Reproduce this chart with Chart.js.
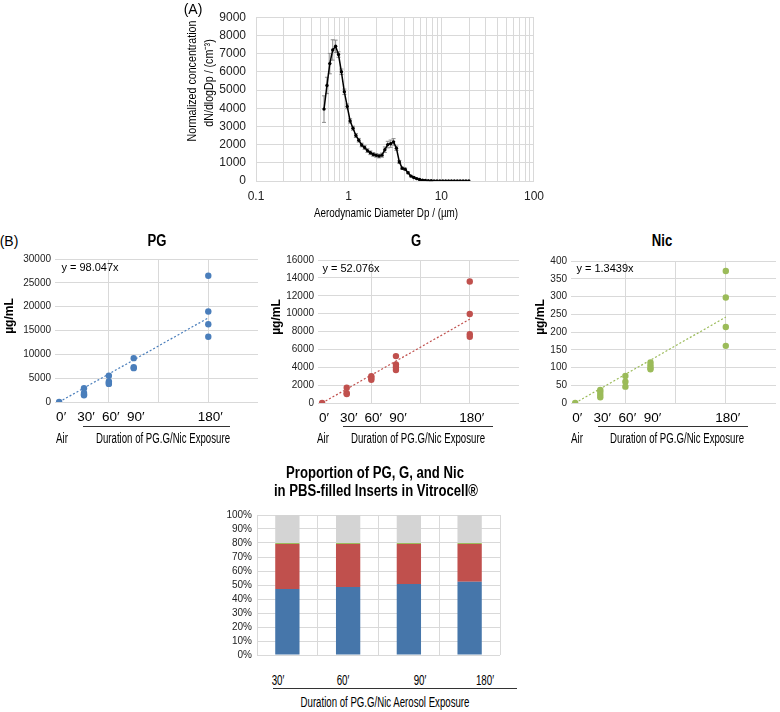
<!DOCTYPE html>
<html><head><meta charset="utf-8">
<script src="https://cdn.jsdelivr.net/npm/chart.js@4/dist/chart.umd.min.js"></script>
<style>
body{margin:0;background:#fff;}
#wrap{position:relative;width:780px;height:712px;overflow:hidden;background:#fff;font-family:'Liberation Sans',Arial,sans-serif;color:#000;}
canvas{position:absolute;}
.t{position:absolute;white-space:nowrap;line-height:1;}
.hl{position:absolute;height:0;border-top:1px solid #333;}
</style></head><body><div id="wrap"></div>
<script>
// ---------- DATA ----------
// Panel A: aerodynamic diameter channels (µm), concentration, error
const diam = [0.542,0.583,0.626,0.673,0.723,0.777,0.835,0.898,0.965,1.037,1.114,1.197,1.286,1.382,1.486,1.596,1.715,1.843,1.981,2.129,2.288,2.458,2.642,2.839,3.051,3.278,3.523,3.786,4.068,4.371,4.698,5.048,5.425,5.829,6.264,6.732,7.234,7.774,8.354,8.977,9.647,10.37,11.14,11.97,12.86,13.82,14.86,15.96,17.15,18.43,19.81];
const conc = [3950,5250,6450,7200,7400,6950,6000,4900,4100,3300,2900,2500,2240,1980,1840,1670,1550,1460,1410,1370,1420,1720,2000,2050,2150,1800,1050,700,650,450,270,190,130,80,50,30,20,12,8,6,5,4,3,2,2,1,1,1,1,1,1];
const concErr = [730,450,560,560,340,150,150,150,130,120,110,110,100,100,100,100,100,100,100,100,110,150,180,200,180,120,80,60,60,50,40,30,20,10,8,5,3,2,0,0,0,0,0,0,0,0,0,0,0,0,0];
const logTickLabels = ['0.1','1','10','100'];

// Panel B: exposure durations (min) and measured concentrations (µg/mL)
const pgX  = [0,30,30,30,30,60,60,60,60,90,90,90,180,180,180,180];
const pgY  = [0,2900,1900,1600,1400,5500,4300,4000,3800,9200,7300,7100,26500,19000,16300,13700];
const gX   = [0,30,30,30,60,60,60,90,90,90,90,180,180,180,180];
const gY   = [0,1700,1100,1000,3000,2800,2600,5250,4300,4000,3700,13600,9950,7700,7400];
const nicX = [0,30,30,30,30,60,60,60,90,90,90,90,180,180,180,180];
const nicY = [0,37,31,23,16,76,60,46,114,106,99,95,372,297,214,161];
const slopes = [98.047, 52.076, 1.3439];
const minuteTicks = [0,30,60,90,120,180,240];
const minuteLabels = [0,30,60,90,180];
const minuteGrid = [60,120,180];

// Panel C: proportions (%)
const durations = ['30′','60′','90′','180′'];
const propPG  = [47.2,48.5,50.8,52.4];
const propG   = [32.1,30.8,28.5,26.9];
const propNic = [0.7,0.7,0.7,0.7];
const propOther = [20.0,20.0,20.0,20.0];

// ---------- helpers ----------
const wrap = document.getElementById('wrap');
function hasFont(name){
  const c=document.createElement('canvas').getContext('2d');
  const s='Duration of PG.G/Nic Exposure 0123456789';
  c.font='20px monospace'; const w0=c.measureText(s).width;
  c.font="20px '"+name+"', monospace"; return Math.abs(c.measureText(s).width-w0)>0.5;
}
const NARROW_OK = hasFont('Liberation Sans Narrow');
const CF = NARROW_OK ? "'Liberation Sans Narrow'" : "'Liberation Sans'";
const SF = "'Liberation Sans', Arial, sans-serif";
function txt(s,cx,cy,font,o){
  o=o||{};
  const d=document.createElement('div'); d.className='t'; d.textContent=s;
  d.style.left=cx+'px'; d.style.top=cy+'px'; d.style.font=font; d.style.color=o.color||'#000';
  let sx=o.sx||1; if(o.cond && !NARROW_OK) sx*=0.82;
  let tr='translate(-50%,-50%)'; if(o.rot) tr+=' rotate(-90deg)'; if(sx!==1) tr+=' scaleX('+sx+')';
  d.style.transform=tr; wrap.appendChild(d); return d;
}
function hline(x1,x2,y){const d=document.createElement('div');d.className='hl';d.style.left=x1+'px';d.style.width=(x2-x1)+'px';d.style.top=y+'px';wrap.appendChild(d);}
function mkCanvas(l,t,w,h){const c=document.createElement('canvas');c.width=w;c.height=h;c.style.left=l+'px';c.style.top=t+'px';c.style.width=w+'px';c.style.height=h+'px';wrap.appendChild(c);return c;}
const GRID='#d9d9d9';
Chart.defaults.font.family = SF;
const plain = v => String(v);

// ---------- Panel A ----------
const errPlugin={id:'errbars',beforeDatasetsDraw(chart){
  const {ctx,scales:{x,y}}=chart; ctx.save(); ctx.strokeStyle='#8c8c8c'; ctx.lineWidth=1;
  diam.forEach((d,i)=>{const e=concErr[i]; if(!e) return; const px=x.getPixelForValue(d);
    const p1=y.getPixelForValue(conc[i]+e), p2=y.getPixelForValue(Math.max(0,conc[i]-e));
    ctx.beginPath(); ctx.moveTo(px,p1); ctx.lineTo(px,p2); ctx.moveTo(px-2,p1); ctx.lineTo(px+2,p1); ctx.moveTo(px-2,p2); ctx.lineTo(px+2,p2); ctx.stroke();});
  ctx.restore();}};
(function(){
  const cv=mkCanvas(180,0,372,221);
  new Chart(cv,{type:'line',
    data:{datasets:[{data:diam.map((d,i)=>({x:d,y:conc[i]})),borderColor:'#000',borderWidth:1.5,pointRadius:1.7,pointBackgroundColor:'#000',pointBorderWidth:0,tension:0}]},
    options:{responsive:false,animation:false,layout:{padding:{top:7,right:13,left:0,bottom:0}},
      plugins:{legend:{display:false},tooltip:{enabled:false}},
      scales:{
        x:{type:'logarithmic',min:0.1,max:100,
          afterBuildTicks:s=>{const t=[];for(let e=-1;e<2;e++)for(let m=1;m<10;m++)t.push({value:m*Math.pow(10,e)});t.push({value:100});s.ticks=t;},
          ticks:{autoSkip:false,maxRotation:0,padding:8,font:{size:12},color:'#222',
            callback:v=>{const l=Math.log10(v);return Math.abs(l-Math.round(l))<1e-6?logTickLabels[Math.round(l)+1]:'';}},
          grid:{drawTicks:false,color:GRID},border:{display:false},afterFit:s=>{s.height=40;}},
        y:{min:0,max:9000,ticks:{stepSize:1000,autoSkip:false,padding:10,font:{size:12},color:'#222',callback:plain},
          grid:{drawTicks:false,color:GRID},border:{display:false},afterFit:s=>{s.width=76;}}
      }},
    plugins:[errPlugin]});
})();
txt('(A)',193,9,'14px '+SF);
txt('Normalized concentration',191,81,'13px '+CF,{rot:true,cond:true});
txt('dN/dlogDp / (cm⁻³)',208,83,'13px '+CF,{rot:true,cond:true});
txt('Aerodynamic Diameter Dp / (µm)',386,212,'13.5px '+CF,{cond:true,sx:0.89});

// ---------- Panel B ----------
// minute tick labels drawn through the x scale of each chart
const minuteLabelPlugin={id:'minuteLabels',afterDraw(chart){
  const {ctx,chartArea,scales:{x}}=chart; ctx.save();
  ctx.font='13.5px '+CF; ctx.fillStyle='#000'; ctx.textAlign='center'; ctx.textBaseline='middle';
  minuteLabels.forEach(v=>ctx.fillText(v+'′',x.getPixelForValue(v)+2,chartArea.bottom+15));
  ctx.restore();}};
function scatter(xs,ys,slope,color,ymax,ystep,g){
  const yW=40,xH=26,padT=8,padR=2;
  const left=g.L-yW, top=g.T-padT, w=g.R+padR-left, h=g.B+xH-top;
  const cv=mkCanvas(left,top,w,h);
  return new Chart(cv,{type:'scatter',
    data:{datasets:[
      {data:xs.map((x,i)=>({x:x,y:ys[i]})),backgroundColor:color,borderColor:color,pointRadius:3.2,pointBorderWidth:0,order:1},
      {type:'line',data:[{x:0,y:0},{x:180,y:slope*180}],borderColor:color,borderWidth:1.2,borderDash:[2,2],pointRadius:0,fill:false,order:2}
    ]},
    options:{responsive:false,animation:false,layout:{padding:{top:padT,right:padR,left:0,bottom:0}},
      plugins:{legend:{display:false},tooltip:{enabled:false}},
      scales:{
        x:{type:'linear',min:-5,max:240,afterBuildTicks:s=>{s.ticks=minuteTicks.map(v=>({value:v}));},
          ticks:{display:false},
          grid:{drawTicks:false,color:c=>(c.tick&&minuteGrid.includes(c.tick.value))?GRID:'rgba(0,0,0,0)'},
          border:{display:false},afterFit:s=>{s.height=xH;}},
        y:{min:0,max:ymax,ticks:{stepSize:ystep,autoSkip:false,padding:4,font:{size:10},color:'#222',callback:plain},
          grid:{drawTicks:false,color:GRID},border:{display:false},afterFit:s=>{s.width=yW;}}
      }},
    plugins:[minuteLabelPlugin]});
}
const geo=[{L:55,R:260,T:257,B:402},{L:318,R:521,T:258,B:403},{L:571,R:778,T:259,B:403}];
scatter(pgX,pgY,slopes[0],'#4A7EBB',30000,5000,geo[0]);
scatter(gX,gY,slopes[1],'#C0504D',16000,2000,geo[1]);
scatter(nicX,nicY,slopes[2],'#9BBB59',400,50,geo[2]);

txt('(B)',9,241,'14px '+SF);
const titles=['PG','G','Nic'], titleX=[157,416,662];
const eqX=[90,351,605], eqY=[267,268,268];
const ylabX=[9,276,540];
const airX=[62,323,577], lineL=[83,343,598], lineR=[230,493,748], durX=[163,418,677];
for(let i=0;i<3;i++){
  txt(titles[i],titleX[i],241,'bold 16px '+CF,{cond:true});
  txt('y = '+slopes[i]+'x',eqX[i],eqY[i],'11px '+SF);
  txt('µg/mL',ylabX[i],(geo[i].T+geo[i].B)/2-14,'bold 12px '+SF,{rot:true});
  txt('Air',airX[i],437.5,'14px '+CF,{cond:true,sx:0.85});
  hline(lineL[i],lineR[i],426);
  txt('Duration of PG.G/Nic Exposure',durX[i],437.5,'14px '+CF,{cond:true,sx:0.84});
}

// ---------- Panel C ----------
(function(){
  const cv=mkCanvas(220,504,284,162);
  new Chart(cv,{type:'bar',
    data:{labels:durations,datasets:[
      {label:'PG',data:propPG,backgroundColor:'#4676AA'},
      {label:'G',data:propG,backgroundColor:'#C0504D'},
      {label:'Nic',data:propNic,backgroundColor:'#9BBB59'},
      {label:'Other',data:propOther,backgroundColor:'#D4D4D4'}
    ].map(d=>Object.assign(d,{categoryPercentage:1,barPercentage:0.4,borderWidth:0}))},
    options:{responsive:false,animation:false,layout:{padding:{top:8,right:4,left:0,bottom:0}},
      plugins:{legend:{display:false},tooltip:{enabled:false}},
      scales:{
        x:{stacked:true,ticks:{display:false},grid:{drawTicks:false,color:GRID},border:{display:false},afterFit:s=>{s.height=5;}},
        y:{stacked:true,min:0,max:100,ticks:{stepSize:10,autoSkip:false,padding:5,font:{size:10},color:'#222',callback:v=>v+'%'},
          grid:{drawTicks:false,color:GRID},border:{display:false},afterFit:s=>{s.width=37;}}
      }}});
})();
txt('Proportion of PG, G, and Nic',375,473,'bold 16px '+CF,{cond:true});
txt('in PBS-filled Inserts in Vitrocell®',376,491,'bold 16px '+CF,{cond:true});
const durLabelX=[278,343,420,485];
durations.forEach((d,i)=>txt(d,durLabelX[i],680,'14px '+CF,{cond:true,sx:0.85}));
hline(273,517,688);
txt('Duration of PG.G/Nic Aerosol Exposure',385,702,'14px '+CF,{cond:true,sx:0.84});
</script></body></html>
